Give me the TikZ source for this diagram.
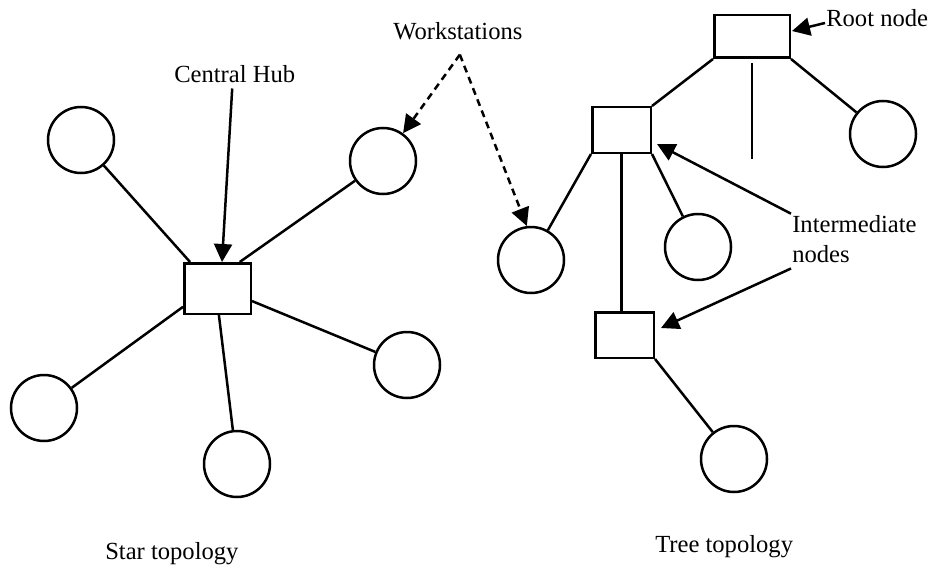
\documentclass[tikz,border=0pt]{standalone}
\usepackage{fontspec}
\setmainfont{Liberation Serif}
\usetikzlibrary{arrows.meta}
\begin{document}
\begin{tikzpicture}[x=1pt,y=-1pt,
  line width=2.5pt,
  station/.style={draw, circle, inner sep=0pt, minimum size=66pt},
  box/.style={draw, rectangle, inner sep=0pt},
  caption/.style={inner sep=0pt, font=\fontsize{24.6}{30}\selectfont},
  pointer/.style={-{Triangle[length=18pt,width=18pt]}},
  dashpointer/.style={pointer, dash pattern=on 7pt off 5pt}
]
\useasboundingbox (0,0) rectangle (933,567);

% ---- star topology ----
\node[box, minimum width=66.5pt, minimum height=50.5pt] (hub) at (217.5,288.5) {};
\node[station] (s1) at (81,140) {};
\node[station] (s2) at (383,161) {};
\node[station] (s3) at (407,365) {};
\node[station] (s4) at (44,408) {};
\node[station] (s5) at (237,464) {};

\draw (s1) -- (hub.136);
\draw (s2) -- (hub.50);
\draw (hub.-20) -- (s3);
\draw (hub.208) -- (s4);
\draw (hub.-87) -- (s5);

% ---- tree topology ----
\node[box, minimum width=75.5pt, minimum height=42.5pt] (root) at (752,36.5) {};
\node[box, minimum width=58.5pt, minimum height=45.5pt] (int1) at (621.5,130) {};
\node[box, minimum width=58.5pt, minimum height=45.5pt] (int2) at (624.5,335) {};
\node[station] (t1) at (531,260) {};
\node[station] (t2) at (698,247) {};
\node[station] (t3) at (734,459) {};
\node[station] (t4) at (883,134) {};
\coordinate (stubend) at (752,159);

\draw (root.south west) -- (int1.north east);
\draw ([yshift=-4pt]root.south) -- (stubend);
\draw (root.south east) -- (t4);
\draw (int1.south west) -- (t1);
\draw (int1.south) -- (int1.south |- int2.north);
\draw (int1.south east) -- (t2);
\draw (int2.south east) -- (t3);

% ---- labels ----
\node[caption, anchor=base west] (hublbl) at (173,83) {Central Hub};
\node[caption, anchor=base west] (wslbl) at (392,40) {Workstations};
\node[caption, anchor=base west] (rootlbl) at (825,27) {Root node};
\node[caption, anchor=base west, align=left] (intlbl) at (791,262) {Intermediate\\nodes};
\node[caption, anchor=base west] (startitle) at (104,559) {Star topology};
\node[caption, anchor=base west] (treetitle) at (654,552) {Tree topology};

% ---- pointers ----
\draw[pointer] ([xshift=-2.5pt,yshift=-4pt]hublbl.south) -- ([xshift=4.5pt]hub.north);
\draw[pointer] ([yshift=-4.4pt]rootlbl.west) -- ([xshift=1pt,yshift=5.5pt]root.east);
\draw[pointer] (intlbl.north west) -- ([xshift=5pt,yshift=-14pt]int1.east);
\draw[pointer] ([yshift=-5pt]intlbl.south west) -- ([xshift=6pt,yshift=7pt]int2.east);

\coordinate (wsfork) at ([xshift=2pt,yshift=-13pt]wslbl.south);
\draw[dashpointer] (wsfork) -- (s2);
\draw[dashpointer] (wsfork) -- (t1.97);
\end{tikzpicture}
\end{document}
